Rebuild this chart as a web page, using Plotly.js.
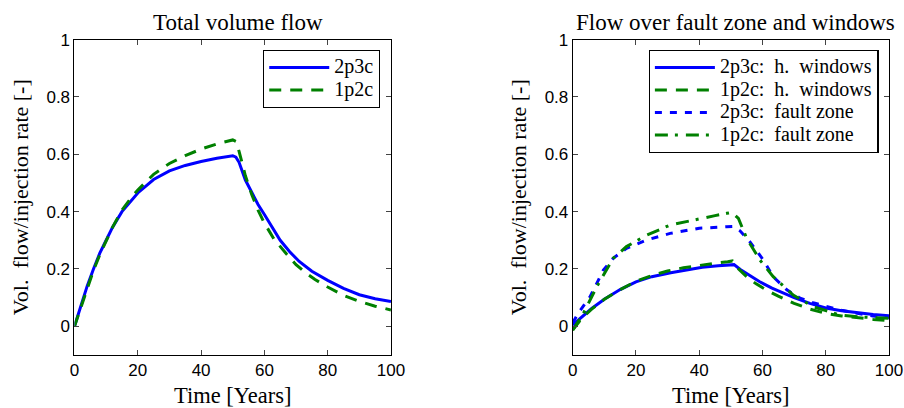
<!DOCTYPE html>
<html><head><meta charset="utf-8">
<script src="https://cdn.plot.ly/plotly-3.0.1.min.js"></script>
<style>html,body{margin:0;padding:0;background:#fff}</style>
</head><body><div id="chart" style="width:904px;height:408px"></div>
<script>
// ---- Left panel: total volume flow ----
const tTotal2p3c = [0, 2, 4, 6, 8, 10, 12, 15, 18, 20, 25, 30, 35, 40, 45, 50, 51, 52, 54, 56, 58, 60, 63, 65, 68, 71, 75, 80, 85, 90, 95, 100];
const total2p3c  = [0, 0.07, 0.14, 0.2, 0.255, 0.3, 0.345, 0.4, 0.44, 0.465, 0.512, 0.542, 0.561, 0.575, 0.586, 0.595, 0.59, 0.572, 0.51, 0.465, 0.425, 0.39, 0.335, 0.3, 0.26, 0.226, 0.192, 0.16, 0.132, 0.11, 0.096, 0.086];
const tTotal1p2c = [0, 2, 4, 6, 8, 10, 12, 15, 18, 20, 25, 30, 35, 40, 45, 50, 51, 52, 54, 56, 58, 60, 63, 67, 70, 73, 76, 80, 85, 90, 95, 100];
const total1p2c  = [0, 0.065, 0.135, 0.195, 0.25, 0.3, 0.345, 0.405, 0.45, 0.475, 0.53, 0.568, 0.595, 0.618, 0.636, 0.65, 0.645, 0.61, 0.525, 0.46, 0.405, 0.36, 0.305, 0.252, 0.215, 0.187, 0.163, 0.137, 0.108, 0.087, 0.07, 0.057];

// ---- Right panel: flow over fault zone and windows ----
const tWin2p3c = [0, 3, 6, 10, 15, 20, 25, 31, 36, 41, 46, 50, 51, 53, 55, 59, 63, 66, 70, 75, 80, 85, 90, 95, 100];
const win2p3c  = [0.005, 0.035, 0.062, 0.094, 0.128, 0.155, 0.173, 0.187, 0.197, 0.206, 0.211, 0.214, 0.215, 0.198, 0.183, 0.156, 0.133, 0.118, 0.1, 0.08, 0.064, 0.054, 0.047, 0.041, 0.037];
const tWin1p2c = [0, 3, 6, 10, 15, 20, 25, 30, 35, 40, 45, 49, 50.5, 52, 55, 58, 61, 65, 70, 75, 80, 85, 90, 95, 100];
const win1p2c  = [-0.013, 0.03, 0.06, 0.094, 0.128, 0.157, 0.177, 0.193, 0.204, 0.213, 0.22, 0.225, 0.228, 0.205, 0.173, 0.148, 0.128, 0.105, 0.08, 0.06, 0.045, 0.036, 0.029, 0.024, 0.02];
const tFault2p3c = [0, 2, 5.5, 9.7, 12.8, 17, 23.4, 30.8, 40, 45, 48.7, 50.8, 52.9, 56, 60.3, 63.4, 67.7, 71.9, 76, 80, 85, 90, 95, 100];
const fault2p3c  = [0.012, 0.05, 0.103, 0.196, 0.237, 0.272, 0.301, 0.324, 0.342, 0.346, 0.347, 0.348, 0.333, 0.295, 0.231, 0.173, 0.127, 0.098, 0.082, 0.07, 0.056, 0.045, 0.036, 0.03];
const tFault1p2c = [0, 3.4, 7.6, 12.8, 17, 23.4, 30.8, 40.2, 45, 48.7, 50.3, 52.4, 55, 59.2, 63.4, 69.7, 76.1, 80, 84.5, 90, 95, 100];
const fault1p2c  = [-0.013, 0.045, 0.138, 0.237, 0.278, 0.318, 0.353, 0.376, 0.386, 0.394, 0.397, 0.376, 0.307, 0.231, 0.173, 0.109, 0.068, 0.055, 0.039, 0.033, 0.03, 0.028];

const seriesNames = ['2p3c', '1p2c', '2p3c:\u00a0\u00a0h.\u00a0\u00a0windows', '1p2c:\u00a0\u00a0h.\u00a0\u00a0windows', '2p3c:\u00a0\u00a0fault\u00a0zone', '1p2c:\u00a0\u00a0fault\u00a0zone'];
const xTicks = [0, 20, 40, 60, 80, 100];
const yTicks = [0, 0.2, 0.4, 0.6, 0.8, 1];

const BLUE = '#0000ff', GREEN = '#008000';
const serif = 'Liberation Serif, Times New Roman, serif';
const sans = 'Liberation Sans, Arial, sans-serif';
const lbl = s => '<span style="font-size:20px">' + s + '</span>';
const DASH = '12px,9px', DOT = '7px,8px', DASHDOT = '13px,7px,3px,8px';
const LW = 3;

const traces = [
  {x: tTotal2p3c, y: total2p3c, name: lbl(seriesNames[0]), mode: 'lines', line: {color: BLUE, width: LW}, xaxis: 'x', yaxis: 'y', legend: 'legend'},
  {x: tTotal1p2c, y: total1p2c, name: lbl(seriesNames[1]), mode: 'lines', line: {color: GREEN, width: LW, dash: DASH}, xaxis: 'x', yaxis: 'y', legend: 'legend'},
  {x: tWin2p3c, y: win2p3c, name: lbl(seriesNames[2]), mode: 'lines', line: {color: BLUE, width: LW}, xaxis: 'x2', yaxis: 'y2', legend: 'legend2'},
  {x: tWin1p2c, y: win1p2c, name: lbl(seriesNames[3]), mode: 'lines', line: {color: GREEN, width: LW, dash: DASH}, xaxis: 'x2', yaxis: 'y2', legend: 'legend2'},
  {x: tFault2p3c, y: fault2p3c, name: lbl(seriesNames[4]), mode: 'lines', line: {color: BLUE, width: LW, dash: DOT}, xaxis: 'x2', yaxis: 'y2', legend: 'legend2'},
  {x: tFault1p2c, y: fault1p2c, name: lbl(seriesNames[5]), mode: 'lines', line: {color: GREEN, width: LW, dash: DASHDOT}, xaxis: 'x2', yaxis: 'y2', legend: 'legend2'}
];

function xax(domain, anchor) {
  return {domain: domain, anchor: anchor, range: [0, 100], tickvals: xTicks, ticks: 'inside', ticklen: 5,
    showline: true, linecolor: '#000', linewidth: 1, mirror: 'ticks', showgrid: false, zeroline: false,
    tickfont: {family: sans, size: 17, color: '#000'},
    title: {text: 'Time [Years]', font: {family: serif, size: 22.5, color: '#000'}, standoff: 10}};
}
function yax(anchor) {
  return {domain: [0.13, 0.903], anchor: anchor, range: [-0.1, 1], tickvals: yTicks, ticks: 'inside', ticklen: 5,
    showline: true, linecolor: '#000', linewidth: 1, mirror: 'ticks', showgrid: false, zeroline: false,
    tickfont: {family: sans, size: 17, color: '#000'},
    title: {text: 'Vol.\u00a0\u00a0flow/injection rate [-]', font: {family: serif, size: 22, color: '#000'}, standoff: 11}};
}

const legendBase = {bgcolor: '#fff', bordercolor: '#000', borderwidth: 1.2, font: {family: serif, size: 15, color: '#000'},
  xanchor: 'right', yanchor: 'top', itemwidth: 60, tracegroupgap: 0};

const layout = {
  width: 904, height: 408,
  margin: {l: 0, r: 0, t: 0, b: 0},
  paper_bgcolor: '#fff', plot_bgcolor: '#fff',
  xaxis: xax([0.0824, 0.4325], 'y'),
  yaxis: yax('x'),
  xaxis2: xax([0.6335, 0.9834], 'y2'),
  yaxis2: yax('x2'),
  legend: Object.assign({}, legendBase, {x: 0.4204, y: 1 - 50/408}),
  legend2: Object.assign({}, legendBase, {x: 0.972, y: 1 - 50/408}),
  annotations: [
    {text: 'Total volume flow', xref: 'x domain', yref: 'paper', x: 0.5, y: 1 - 22/408, xshift: 5, yanchor: 'middle', showarrow: false,
      font: {family: serif, size: 23, color: '#000'}},
    {text: 'Flow over fault zone and windows', xref: 'x2 domain', yref: 'paper', x: 0.5, y: 1 - 22/408, xshift: 5, yanchor: 'middle', showarrow: false,
      font: {family: serif, size: 23, color: '#000'}}
  ],
  showlegend: true
};

Plotly.newPlot('chart', traces, layout, {displayModeBar: false, staticPlot: true});
</script>
</body></html>
